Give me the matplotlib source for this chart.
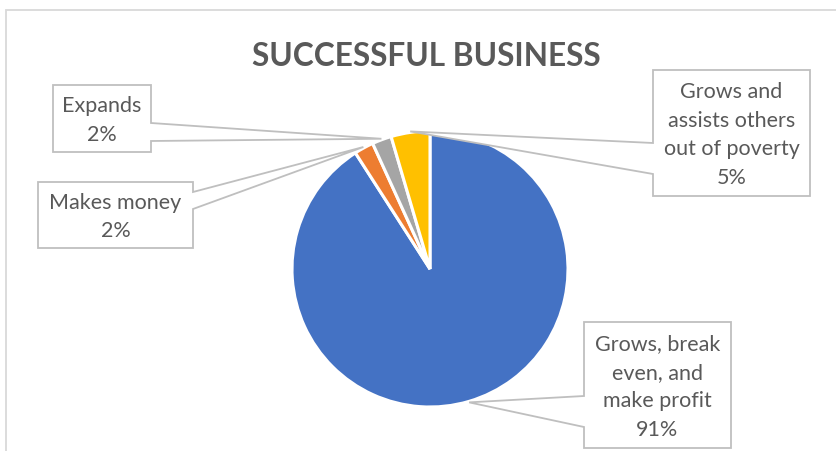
import numpy as np
import matplotlib.pyplot as plt
from matplotlib.patches import Polygon, Rectangle

# survey answers: what a successful business does
labels = ["Grows, break\neven, and\nmake profit", "Makes money", "Expands",
          "Grows and\nassists others\nout of poverty"]
counts = [40, 1, 1, 2]
colors = ["#4472C4", "#ED7D31", "#A5A5A5", "#FFC000"]

W, H = 837, 452
TXT = "#595959"
EDGE = "#BFBFBF"

plt.rcParams['font.family'] = ['Lato', 'DejaVu Sans']

fig = plt.figure(figsize=(W / 100, H / 100), dpi=100)
ax = fig.add_axes([0, 0, 1, 1])
ax.set_xlim(0, W)
ax.set_ylim(0, H)
ax.set_aspect('equal')
ax.axis('off')


def py(y):
    # pixel row -> axes y
    return H - y


# chart frame
ax.add_patch(Rectangle((6, py(460)), 900, 449, fill=False, ec="#D9D9D9", lw=1.3))

cx, cy, r = 430, 270, 138
wedges, _ = ax.pie(counts, colors=colors, startangle=90, counterclock=False,
                   center=(cx, py(cy)), radius=r, frame=True,
                   wedgeprops=dict(edgecolor="white", linewidth=2.2))
ax.set_xlim(0, W)
ax.set_ylim(0, H)
ax.axis('off')

ax.text(426, py(56), "SUCCESSFUL BUSINESS", ha="center", va="center",
        fontsize=22.8, fontweight="bold", color=TXT)

pct = [round(c / sum(counts) * 100) for c in counts]

# callout boxes: (left, top, right, bottom, side, attach y1, attach y2)
boxes = [
    (584, 323, 731, 449, "left", 397, 428),
    (38, 183, 193, 249, "right", 193, 210),
    (53, 86, 151, 153, "right", 124, 142),
    (653, 71, 810, 197, "left", 144, 175),
]

for w, lab, p, b in zip(wedges, labels, pct, boxes):
    x0, y0, x1, y1, side, a1, a2 = b
    ang = np.deg2rad((w.theta1 + w.theta2) / 2)
    tip = (cx + (r + 1) * np.cos(ang), py(cy) + (r + 1) * np.sin(ang))
    if side == "right":
        pts = [(x0, py(y0)), (x1, py(y0)), (x1, py(a1)), tip, (x1, py(a2)),
               (x1, py(y1)), (x0, py(y1))]
    else:
        pts = [(x0, py(y0)), (x1, py(y0)), (x1, py(y1)), (x0, py(y1)),
               (x0, py(a2)), tip, (x0, py(a1))]
    ax.add_patch(Polygon(pts, closed=True, fc="white", ec=EDGE, lw=1.3, zorder=3))
    ax.text((x0 + x1) / 2, py((y0 + y1) / 2 + 1), f"{lab}\n{p}%", ha="center",
            va="center", fontsize=15.5, color=TXT, linespacing=1.55, zorder=4)

fig.savefig("out.png", dpi=100)
